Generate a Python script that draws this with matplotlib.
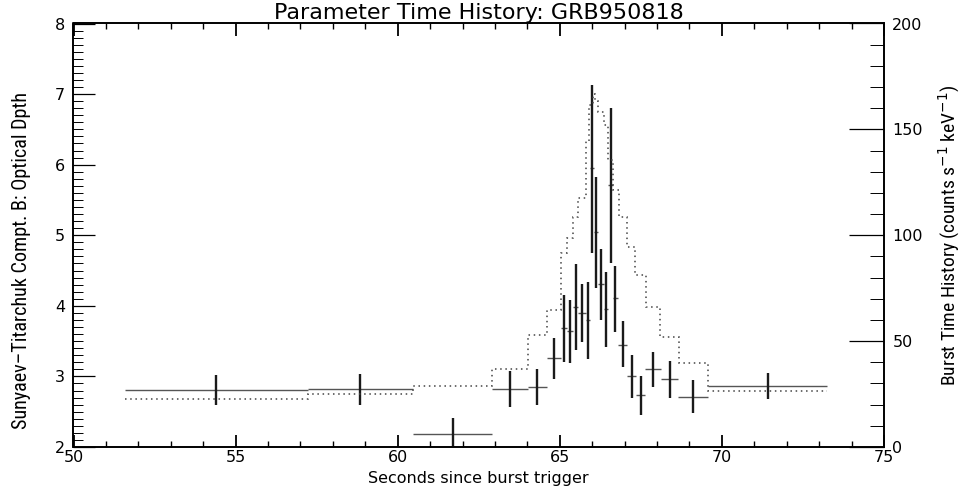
import numpy as np
import matplotlib
matplotlib.use("Agg")
import matplotlib.pyplot as plt
from matplotlib.ticker import MultipleLocator

# ---- data ----
# parameter (optical depth) time bins
data_edges = [51.59, 57.22, 60.48, 62.92, 64.01, 64.60, 65.04, 65.23, 65.42,
              65.55, 65.80, 65.92, 66.06, 66.18, 66.35, 66.50, 66.63, 66.80,
              67.08, 67.36, 67.62, 68.12, 68.65, 69.58, 73.25]
tau = [2.81, 2.82, 2.19, 2.82, 2.85, 3.26, 3.68, 3.64, 3.98, 3.90, 3.80, 5.95,
       5.04, 4.31, 3.95, 5.71, 4.11, 3.45, 3.01, 2.74, 3.10, 2.96, 2.71, 2.86]
tau_lo = [2.60, 2.60, 1.98, 2.57, 2.60, 2.96, 3.21, 3.19, 3.37, 3.49, 3.24, 4.75,
          4.25, 3.80, 3.42, 4.61, 3.63, 3.13, 2.69, 2.46, 2.85, 2.70, 2.48, 2.68]
tau_hi = [3.02, 3.04, 2.41, 3.07, 3.11, 3.55, 4.15, 4.08, 4.59, 4.31, 4.34, 7.13,
          5.83, 4.80, 4.48, 6.80, 4.56, 3.78, 3.30, 3.01, 3.35, 3.22, 2.95, 3.05]

# burst time history (counts s^-1 keV^-1)
hist_edges = [51.59, 57.22, 60.48, 62.92, 64.01, 64.60, 65.04, 65.23, 65.42,
              65.55, 65.80, 65.91, 66.02, 66.10, 66.17, 66.36, 66.50, 66.65,
              66.83, 67.06, 67.32, 67.65, 68.09, 68.68, 69.58, 73.25]
hist_counts = [22.5, 25.0, 28.8, 36.7, 52.9, 64.7, 91.5, 98.6, 108.8, 117.4,
               144.5, 161.5, 166.7, 163.5, 158.0, 152.1, 135.5, 121.4, 108.8,
               94.6, 81.2, 66.3, 52.1, 39.8, 26.4]

title = "Parameter Time History: GRB950818"
xlabel = "Seconds since burst trigger"
ylabel_left = "Sunyaev\u2013Titarchuk Compt. B: Optical Dpth"
ylabel_right = r"Burst Time History (counts s$^{-1}$ keV$^{-1}$)"

# ---- plot ----
fig = plt.figure(figsize=(9.7, 4.9), dpi=100)
ax = fig.add_axes([73.5 / 970, 43 / 490, (884 - 73.5) / 970, (447 - 23.5) / 490])
ax2 = ax.twinx()

edges = np.array(data_edges)
xc = 0.5 * (edges[:-1] + edges[1:])
xe = 0.5 * (edges[1:] - edges[:-1])
tau = np.array(tau)
ylo = tau - np.array(tau_lo)
yhi = np.array(tau_hi) - tau

ax.errorbar(xc, tau, xerr=xe, fmt='none', ecolor='#555555', elinewidth=1.0,
            capsize=0, zorder=3)
ax.errorbar(xc, tau, yerr=[ylo, yhi], fmt='none', ecolor='#1a1a1a',
            elinewidth=1.7, capsize=0, zorder=3)

ax2.stairs(hist_counts, hist_edges, color='#444444', lw=1.1,
           linestyle=(0, (1, 2.4)), baseline=None)

ax.set_xlim(50, 75)
ax.set_ylim(2, 8)
ax2.set_ylim(0, 200)

ax.xaxis.set_major_locator(MultipleLocator(5))
ax.xaxis.set_minor_locator(MultipleLocator(1))
ax.yaxis.set_major_locator(MultipleLocator(1))
ax.yaxis.set_minor_locator(MultipleLocator(0.1))
ax2.yaxis.set_major_locator(MultipleLocator(50))
ax2.yaxis.set_minor_locator(MultipleLocator(10))

ax.tick_params(axis='x', which='major', direction='in', length=9, width=1.3,
               top=True, labelsize=11.5, pad=2)
ax.tick_params(axis='x', which='minor', direction='in', length=4.5, width=1.0,
               top=True)
ax.tick_params(axis='y', which='major', direction='in', length=16, width=0.9,
               labelsize=11.5, pad=6)
ax.tick_params(axis='y', which='minor', direction='in', length=7, width=0.7)
ax2.tick_params(axis='y', which='major', direction='in', length=25, width=0.9,
                labelsize=11.5, pad=6)
ax2.tick_params(axis='y', which='minor', direction='in', length=10, width=0.7)

for a in (ax, ax2):
    for s in a.spines.values():
        s.set_linewidth(1.2)
        s.set_color('black')

ax.set_title(title, fontsize=16, family='DejaVu Sans', pad=3)
ax.set_xlabel(xlabel, fontsize=11.5, family='DejaVu Sans')
ax.xaxis.set_label_coords(0.5, -0.056)
ax.set_ylabel(ylabel_left, fontsize=14.5,
              family=['Roboto Condensed', 'Liberation Sans Narrow', 'DejaVu Sans'])
ax.yaxis.set_label_coords(-0.052, 0.44)
ax2.set_ylabel(ylabel_right, fontsize=14,
               family=['Roboto Condensed', 'Liberation Sans Narrow', 'DejaVu Sans'],
               labelpad=10)

fig.savefig("out.png", dpi=100)
